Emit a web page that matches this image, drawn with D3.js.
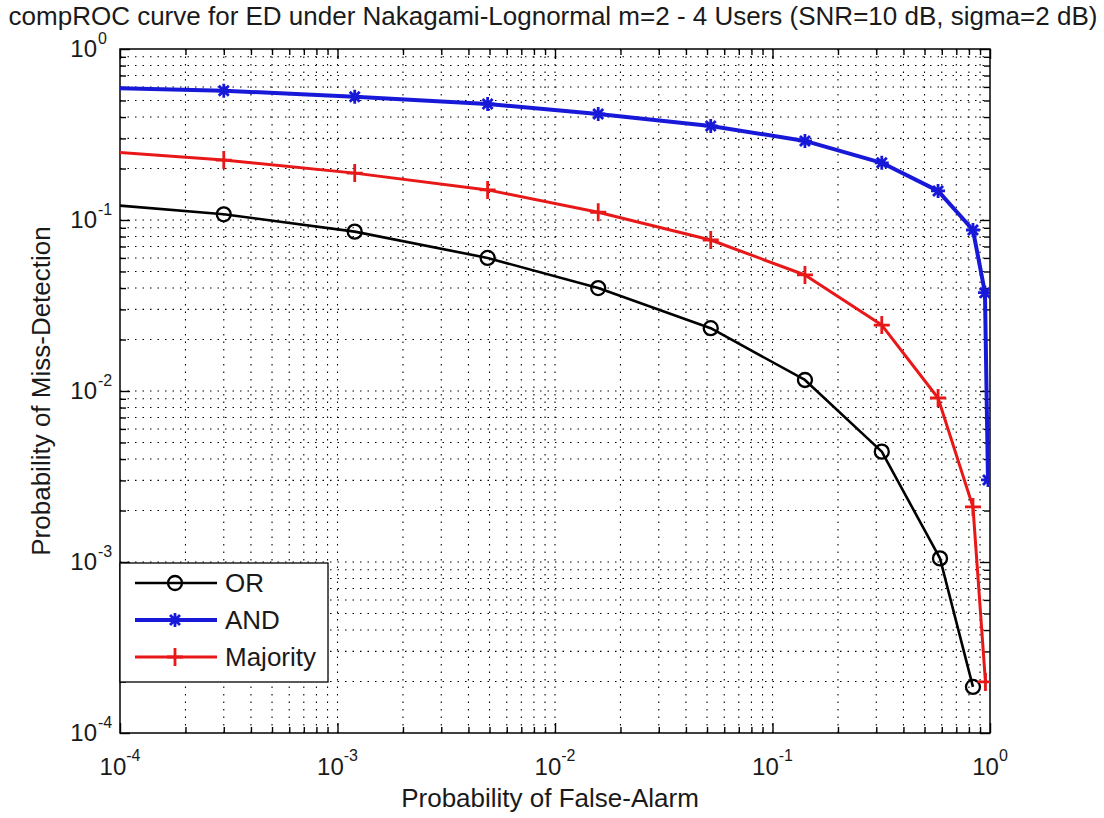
<!DOCTYPE html>
<meta charset="utf-8">
<script src="https://cdn.jsdelivr.net/npm/d3@7"></script>
<style>
body{margin:0;background:#fff;}
text{font-family:"Liberation Sans",Arial,sans-serif;fill:#1a1a1a;}
</style>
<div id="vis"></div>
<script>
// labels
const title = "compROC curve for ED under Nakagami-Lognormal m=2 - 4 Users (SNR=10 dB, sigma=2 dB)";
const xLabel = "Probability of False-Alarm";
const yLabel = "Probability of Miss-Detection";
const decades = [-4, -3, -2, -1, 0];
const seriesNames = ["OR", "AND", "Majority"];

// data (first point lies just left of the axis and is clipped)
const pfOR  = [7.6e-5, 3.0e-4, 1.2e-3, 4.9e-3, 1.58e-2, 5.2e-2, 0.141, 0.318, 0.589, 0.835];
const pmOR  = [0.125, 0.108, 0.0855, 0.060, 0.040, 0.0233, 0.0116, 0.00442, 0.00105, 0.000186];

const pfAND = [7.6e-5, 3.0e-4, 1.2e-3, 4.9e-3, 1.58e-2, 5.2e-2, 0.141, 0.318, 0.577, 0.835, 0.948, 0.979];
const pmAND = [0.594, 0.570, 0.526, 0.477, 0.417, 0.355, 0.290, 0.216, 0.148, 0.0874, 0.0376, 0.00302];

const pfMaj = [7.6e-5, 3.0e-4, 1.2e-3, 4.9e-3, 1.58e-2, 5.2e-2, 0.141, 0.318, 0.577, 0.835, 0.953];
const pmMaj = [0.255, 0.224, 0.188, 0.150, 0.111, 0.0764, 0.0477, 0.0243, 0.0091, 0.0021, 0.000199];

const width = 1104, height = 818;
const margin = {top: 49, right: 114, bottom: 85, left: 120};
const w = width - margin.left - margin.right;
const h = height - margin.top - margin.bottom;

const x = d3.scaleLog().domain([1e-4, 1]).range([0, w]);
const y = d3.scaleLog().domain([1e-4, 1]).range([h, 0]);

const majors = decades.map(d => Math.pow(10, d));
const minors = [];
decades.slice(0, -1).forEach(d => { for (let k = 2; k < 10; k++) minors.push(k * Math.pow(10, d)); });

const svg = d3.select("#vis").append("svg")
  .attr("width", width).attr("height", height)
  .style("background", "#fff");

svg.append("text")
  .attr("x", 553).attr("y", 25)
  .attr("text-anchor", "middle")
  .style("font-size", "26px")
  .text(title);

const g = svg.append("g").attr("transform", `translate(${margin.left},${margin.top})`);

g.append("clipPath").attr("id", "clip")
  .append("rect").attr("width", w).attr("height", h);

// dotted grid, major and minor
const inner = majors.slice(1, -1).concat(minors);
const grid = g.append("g").attr("stroke", "#000").attr("stroke-width", 1.1).attr("stroke-dasharray", "1.5,6");
grid.selectAll(".gx").data(inner).join("line").attr("class", "gx")
  .attr("x1", d => x(d)).attr("x2", d => x(d)).attr("y1", 0).attr("y2", h);
grid.selectAll(".gy").data(inner).join("line").attr("class", "gy")
  .attr("y1", d => y(d)).attr("y2", d => y(d)).attr("x1", 0).attr("x2", w);

// inward ticks on all four sides
function ticks(sel, axis) {
  sel.call(axis.tickFormat(""));
  sel.select(".domain").remove();
  sel.selectAll("line").attr("stroke", "#000").attr("stroke-width", 1.4);
}
g.append("g").attr("transform", `translate(0,${h})`).call(ticks, d3.axisBottom(x).tickValues(majors).tickSize(-10));
g.append("g").attr("transform", `translate(0,${h})`).call(ticks, d3.axisBottom(x).tickValues(minors).tickSize(-6));
g.append("g").call(ticks, d3.axisTop(x).tickValues(majors).tickSize(-10));
g.append("g").call(ticks, d3.axisTop(x).tickValues(minors).tickSize(-6));
g.append("g").call(ticks, d3.axisLeft(y).tickValues(majors).tickSize(-10));
g.append("g").call(ticks, d3.axisLeft(y).tickValues(minors).tickSize(-6));
g.append("g").attr("transform", `translate(${w},0)`).call(ticks, d3.axisRight(y).tickValues(majors).tickSize(-10));
g.append("g").attr("transform", `translate(${w},0)`).call(ticks, d3.axisRight(y).tickValues(minors).tickSize(-6));

g.append("rect").attr("width", w).attr("height", h)
  .attr("fill", "none").attr("stroke", "#000").attr("stroke-width", 1.5);

// tick labels 10^n
const xt = g.append("g").selectAll("text").data(decades).join("text")
  .attr("x", d => x(Math.pow(10, d))).attr("y", h + 42)
  .attr("text-anchor", "middle").style("font-size", "24px");
xt.append("tspan").text("10");
xt.append("tspan").attr("dy", -14).style("font-size", "16px").text(d => d);

g.append("g").selectAll("text").data(decades).join("text")
  .attr("x", -23).attr("y", d => y(Math.pow(10, d)) + 8)
  .attr("text-anchor", "end").style("font-size", "24px").text("10");
g.append("g").selectAll("text").data(decades).join("text")
  .attr("x", -22).attr("y", d => y(Math.pow(10, d)) - 5)
  .style("font-size", "16px").text(d => d);

// axis titles
svg.append("text").attr("x", 550).attr("y", 807)
  .attr("text-anchor", "middle").style("font-size", "26px").text(xLabel);
svg.append("text").attr("transform", `translate(50,${margin.top + h / 2}) rotate(-90)`)
  .attr("text-anchor", "middle").style("font-size", "26px").text(yLabel);

// markers
const markerPath = {
  star: "M-7,0H7M0,-7V7M-5,-5L5,5M-5,5L5,-5",
  plus: "M-8,0H8M0,-9V9"
};
const series = [
  {name: seriesNames[0], pf: pfOR,  pm: pmOR,  color: "#000000", lw: 2.6, marker: "circle"},
  {name: seriesNames[1], pf: pfAND, pm: pmAND, color: "#1818d8", lw: 4,   marker: "star"},
  {name: seriesNames[2], pf: pfMaj, pm: pmMaj, color: "#e81818", lw: 3,   marker: "plus"}
];

function drawMarker(sel, s) {
  if (s.marker === "circle") {
    sel.append("circle").attr("r", 7).attr("fill", "none")
      .attr("stroke", s.color).attr("stroke-width", 2.3);
  } else {
    sel.append("path").attr("d", markerPath[s.marker]).attr("fill", "none")
      .attr("stroke", s.color).attr("stroke-width", 2.8);
  }
}

const line = d3.line().x(d => x(d[0])).y(d => y(d[1]));
const plot = g.append("g").attr("clip-path", "url(#clip)");

series.forEach(s => {
  const pts = s.pf.map((p, i) => [p, s.pm[i]]);
  plot.append("path").datum(pts)
    .attr("d", line).attr("fill", "none")
    .attr("stroke", s.color).attr("stroke-width", s.lw)
    .attr("stroke-linejoin", "round");
  plot.append("g").selectAll("g").data(pts).join("g")
    .attr("transform", d => `translate(${x(d[0])},${y(d[1])})`)
    .each(function() { drawMarker(d3.select(this), s); });
});

// legend
const leg = svg.append("g").attr("transform", "translate(120,563)");
leg.append("rect").attr("width", 208).attr("height", 119)
  .attr("fill", "#fff").attr("stroke", "#000").attr("stroke-width", 1.3);
series.forEach((s, i) => {
  const ly = 20 + i * 37;
  leg.append("line").attr("x1", 15).attr("x2", 97).attr("y1", ly).attr("y2", ly)
    .attr("stroke", s.color).attr("stroke-width", s.lw);
  leg.append("g").attr("transform", `translate(55,${ly})`).call(drawMarker, s);
  leg.append("text").attr("x", 105).attr("y", ly + 9)
    .style("font-size", "26px").text(s.name);
});
</script>
